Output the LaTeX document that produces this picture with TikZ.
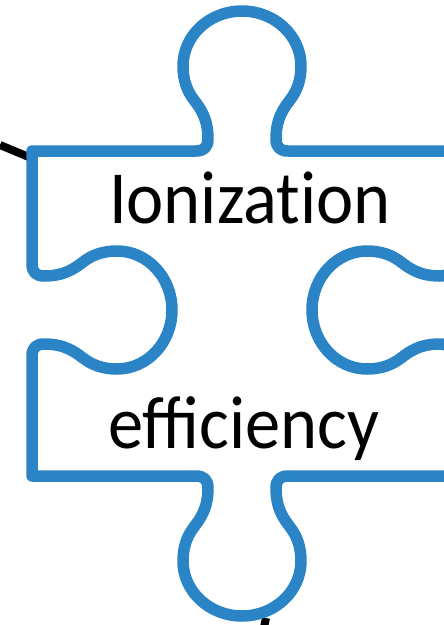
\documentclass[tikz,border=0pt]{standalone}
\usepackage{fontspec}
\setmainfont{Carlito}[FakeStretch=0.94]
\usetikzlibrary{positioning}
\definecolor{pieceblue}{RGB}{42,132,198}

\begin{document}
\begin{tikzpicture}[x=1pt,y=-1pt,
  piece/.style={draw=pieceblue,line width=11.5pt,line join=round},
  link/.style={draw=black,line width=8pt},
  word/.style={anchor=base,inner sep=0pt,font=\fontsize{75}{90}\selectfont}]
  \useasboundingbox (0,0) rectangle (444,625);
  \clip (0,0) rectangle (444,625);
  %
  \coordinate (link_a) at (0,145);
  \coordinate (link_b) at (36,160);
  \coordinate (link_c) at (266,618);
  \coordinate (link_d) at (263,632);
  \draw[link] (link_a) -- (link_b);
  \draw[link] (link_c) -- (link_d);
  %
  \draw[piece] (32,151) -- (196,151)
    .. controls (204,151) and (208,147) .. (208,139)
    .. controls (208,118) and (200,108) .. (194,100)
    .. controls (187,91) and (183,80) .. (183,66)
    .. controls (183,35.6) and (209.4,11) .. (242,11)
    .. controls (274.6,11) and (301,35.6) .. (301,66)
    .. controls (301,80) and (297,91) .. (290,100)
    .. controls (284,108) and (276,118) .. (276,139)
    .. controls (276,147) and (280,151) .. (288,151)
    -- (452,151) -- (452,264)
    .. controls (452,272) and (448,276) .. (440,276)
    .. controls (419,276) and (409,268) .. (401,262)
    .. controls (392,255) and (381,251) .. (367,251)
    .. controls (336.6,251) and (312,277.4) .. (312,310)
    .. controls (312,342.6) and (336.6,369) .. (367,369)
    .. controls (381,369) and (392,365) .. (401,358)
    .. controls (409,352) and (419,344) .. (440,344)
    .. controls (448,344) and (452,348) .. (452,356)
    -- (452,476) -- (288,476)
    .. controls (280,476) and (276,480) .. (276,488)
    .. controls (276,509) and (284,519) .. (290,527)
    .. controls (297,536) and (301,547) .. (301,561)
    .. controls (301,591.4) and (274.6,616) .. (242,616)
    .. controls (209.4,616) and (183,591.4) .. (183,561)
    .. controls (183,547) and (187,536) .. (194,527)
    .. controls (200,519) and (208,509) .. (208,488)
    .. controls (208,480) and (204,476) .. (196,476)
    -- (32,476) -- (32,356)
    .. controls (32,348) and (36,344) .. (44,344)
    .. controls (65,344) and (75,352) .. (83,358)
    .. controls (92,365) and (103,369) .. (117,369)
    .. controls (147.4,369) and (172,342.6) .. (172,310)
    .. controls (172,277.4) and (147.4,251) .. (117,251)
    .. controls (103,251) and (92,255) .. (83,262)
    .. controls (75,268) and (65,276) .. (44,276)
    .. controls (36,276) and (32,272) .. (32,264)
    -- cycle;
  %
  \node[word] (ionization) at (250,223) {Ionizat\kern0pt ion};
  \node[word] (efficiency) at (244,448) {efficiency};
\end{tikzpicture}
\end{document}
